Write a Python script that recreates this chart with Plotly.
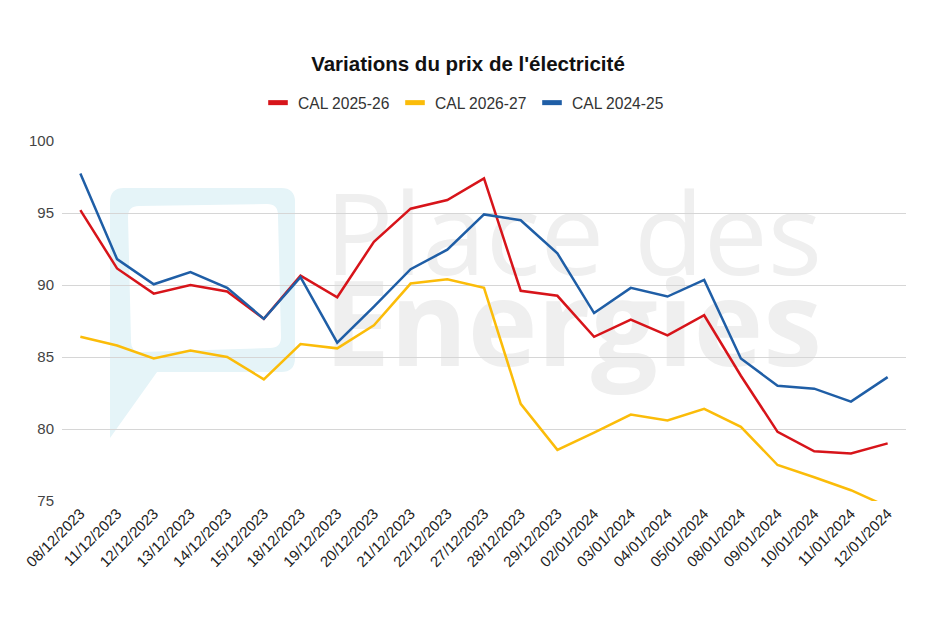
import plotly.graph_objects as go

dates = ["08/12/2023", "11/12/2023", "12/12/2023", "13/12/2023", "14/12/2023", "15/12/2023",
         "18/12/2023", "19/12/2023", "20/12/2023", "21/12/2023", "22/12/2023", "27/12/2023",
         "28/12/2023", "29/12/2023", "02/01/2024", "03/01/2024", "04/01/2024", "05/01/2024",
         "08/01/2024", "09/01/2024", "10/01/2024", "11/01/2024", "12/01/2024"]

cal_2025_26 = [95.2, 91.15, 89.4, 90.0, 89.55, 87.65, 90.65, 89.15, 93.0, 95.3, 95.9, 97.4,
               89.6, 89.25, 86.4, 87.6, 86.5, 87.9, 83.7, 79.8, 78.45, 78.3, 79.0]
cal_2026_27 = [86.4, 85.8, 84.9, 85.45, 85.0, 83.45, 85.9, 85.6, 87.2, 90.1, 90.4, 89.8,
               81.75, 78.55, 79.75, 81.0, 80.6, 81.4, 80.15, 77.5, 76.65, 75.75, 74.6]
cal_2024_25 = [97.75, 91.8, 90.05, 90.9, 89.8, 87.65, 90.55, 86.0, 88.5, 91.1, 92.45, 94.9,
               94.5, 92.2, 88.05, 89.8, 89.2, 90.35, 84.9, 83.0, 82.8, 81.9, 83.6]

series = [
    ("CAL 2025-26", cal_2025_26, "#d7141a"),
    ("CAL 2026-27", cal_2026_27, "#fbbc09"),
    ("CAL 2024-25", cal_2024_25, "#1f5ea6"),
]

FONT = "Liberation Sans, Arial, sans-serif"
W, H = 936, 624
L, R, T, B = 62, 30, 141, 123
PW, PH = W - L - R, H - T - B


def px2paper(x, y):
    return (x - L) / PW, (H - B - y) / PH


def path(points):
    parts = []
    for cmd, pts in points:
        coords = []
        for (x, y) in pts:
            xp, yp = px2paper(x, y)
            coords.append(f"{xp:.4f},{yp:.4f}")
        parts.append(cmd + " " + " ".join(coords))
    return " ".join(parts) + " Z"


fig = go.Figure()

for name, vals, color in series:
    fig.add_trace(go.Scatter(x=dates, y=vals, mode="lines", name=name,
                             line=dict(color=color, width=2.5), showlegend=False,
                             hovertemplate="%{x}: %{y}<extra>" + name + "</extra>"))
    fig.add_trace(go.Scatter(x=[None], y=[None], mode="markers", name=name,
                             marker=dict(symbol="line-ew", size=14,
                                         line=dict(color=color, width=5)),
                             showlegend=True, hoverinfo="skip"))

# watermark logo (decoration)
outer = path([
    ("M", [(110, 202)]), ("Q", [(110, 188), (124, 188)]), ("L", [(281, 188)]),
    ("Q", [(295, 188), (295, 202)]), ("L", [(295, 358)]), ("Q", [(295, 372), (281, 372)]),
    ("L", [(157, 372)]), ("L", [(110, 438)]),
])
inner = path([
    ("M", [(128, 217)]), ("Q", [(128, 206), (139, 206)]), ("L", [(267, 204)]),
    ("Q", [(278, 204), (278, 215)]), ("L", [(281, 337)]), ("Q", [(281, 348), (270, 348)]),
    ("L", [(141, 352)]), ("Q", [(131, 352), (131, 342)]),
])


def text_shape(txt, x_left, y_mid, size, weight):
    x0, y0 = px2paper(x_left, y_mid - 60)
    x1, y1 = px2paper(x_left + 540, y_mid + 60)
    return dict(type="rect", xref="paper", yref="paper", x0=x0, x1=x1, y0=y1, y1=y0,
                line=dict(width=0), fillcolor="rgba(0,0,0,0)", layer="below",
                label=dict(text=txt, textposition="middle left", padding=0,
                           font=dict(family="Open Sans, sans-serif", size=size,
                                     color="#efefef", weight=weight)))


shapes = [
    dict(type="path", path=outer, xref="paper", yref="paper", fillcolor="#e5f4f8",
         line=dict(width=0), layer="below"),
    dict(type="path", path=inner, xref="paper", yref="paper", fillcolor="#ffffff",
         line=dict(width=0), layer="below"),
    text_shape("Place des", 322, 238, 114, 400),
    text_shape("Energies", 321, 328, 118, 700),
]

fig.update_layout(
    width=W, height=H,
    margin=dict(l=L, r=R, t=T, b=B),
    paper_bgcolor="white", plot_bgcolor="white",
    shapes=shapes,
    title=dict(text="<b>Variations du prix de l'électricité</b>", x=0.5, xanchor="center",
               y=1 - 64 / H, yanchor="middle",
               font=dict(family=FONT, size=20.5, color="#111111")),
    legend=dict(orientation="h", xref="container", x=258 / W, xanchor="left",
                y=1 - 103 / H, yref="container", yanchor="middle",
                font=dict(family=FONT, size=15.6, color="#333333"),
                itemwidth=30, tracegroupgap=0, entrywidth=92, entrywidthmode="pixels"),
    xaxis=dict(type="category", range=[-0.5, len(dates) - 0.5], tickangle=-45,
               showgrid=False, showline=False, ticks="",
               tickfont=dict(family=FONT, size=15, color="#222222")),
    yaxis=dict(range=[75, 100], dtick=5, showgrid=True, gridcolor="#d6d6d6", gridwidth=1,
               zeroline=False, showline=False, ticks="", ticklabelstandoff=7,
               tickfont=dict(family=FONT, size=15, color="#444444")),
    hovermode="closest",
)

fig.write_html("out.html", config={"displayModeBar": False},
               post_script="document.body.style.margin='0px';")
